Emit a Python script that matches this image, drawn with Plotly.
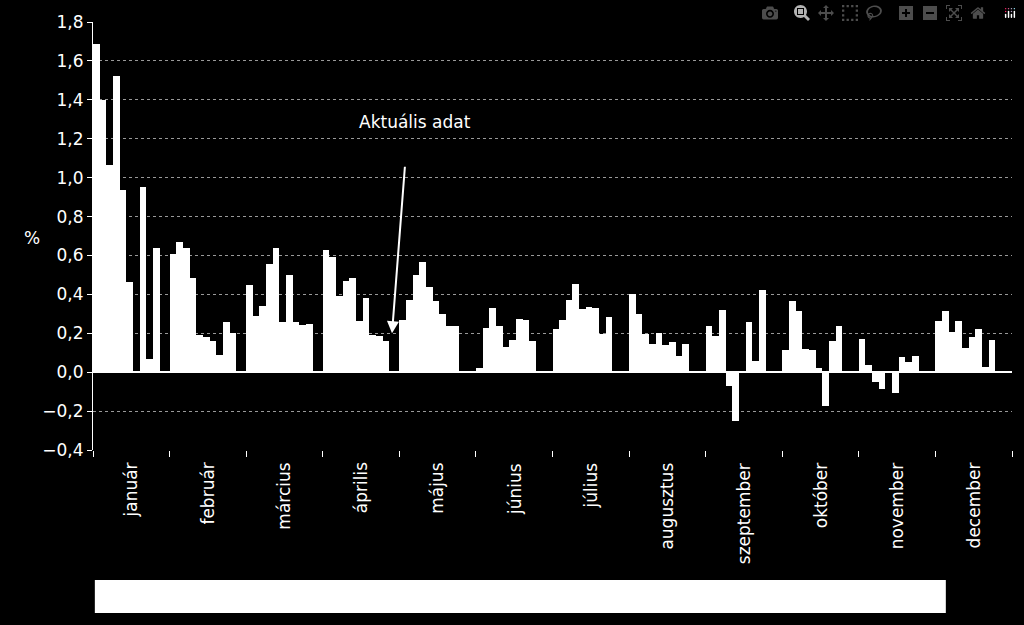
import plotly.graph_objects as go

months = ['január', 'február', 'március', 'április', 'május', 'június', 'július',
          'augusztus', 'szeptember', 'október', 'november', 'december']

jan = [1.685, 1.40, 1.067, 1.52, 0.935, 0.464, 0.005, 0.95, 0.07, 0.64]
feb = [0.61, 0.67, 0.64, 0.486, 0.19, 0.18, 0.16, 0.09, 0.26, 0.20]
mar = [0.45, 0.29, 0.34, 0.555, 0.64, 0.26, 0.50, 0.26, 0.24, 0.25]
apr = [0.63, 0.59, 0.39, 0.47, 0.485, 0.265, 0.38, 0.19, 0.185, 0.16]
may = [0.267, 0.37, 0.50, 0.564, 0.438, 0.365, 0.30, 0.235, 0.235]
jun = [0.02, 0.225, 0.33, 0.235, 0.13, 0.165, 0.275, 0.27, 0.162]
jul = [0.22, 0.267, 0.37, 0.453, 0.324, 0.334, 0.328, 0.197, 0.284]
aug = [0.40, 0.297, 0.197, 0.145, 0.20, 0.14, 0.155, 0.084, 0.143]
sep = [0.236, 0.184, 0.322, -0.07, -0.25, 0.003, 0.26, 0.055, 0.422]
okt = [0.112, 0.365, 0.315, 0.119, 0.112, 0.02, -0.175, 0.159, 0.236]
nov = [0.17, 0.036, -0.053, -0.088, 0.003, -0.108, 0.08, 0.05, 0.084]
dec = [0.262, 0.314, 0.207, 0.265, 0.124, 0.18, 0.222, 0.026, 0.167]

series = [jan, feb, mar, apr, may, jun, jul, aug, sep, okt, nov, dec]
SPAN = 11.5

xs, ys = [], []
for i, vals in enumerate(series):
    for j, v in enumerate(vals):
        xs.append(i * SPAN + j + 0.5)
        ys.append(v)

fig = go.Figure()
fig.add_trace(go.Bar(x=xs, y=ys, width=1.0, marker_color='white',
                     marker_line_width=0))

font = 'DejaVu Sans'
bounds = [i * SPAN for i in range(13)]

for i, m in enumerate(months):
    fig.add_annotation(x=i * SPAN + SPAN / 2, y=-0.025, xref='x', yref='paper',
                       text=m, textangle=-90, showarrow=False,
                       xanchor='center', yanchor='top',
                       font=dict(family=font, size=17, color='white'))

fig.add_annotation(x=44.9, y=0.2, ax=13, ay=-168, showarrow=True,
                   arrowhead=2, arrowsize=1.2, arrowwidth=2, arrowcolor='white',
                   text='')
fig.add_annotation(x=48.4, y=1.285, text='Aktuális adat', showarrow=False,
                   font=dict(family=font, size=17, color='white'))

fig.add_annotation(xref='paper', yref='paper', x=(22 - 93) / 919,
                   y=(450 - 238) / 428, text='%', showarrow=False,
                   font=dict(family=font, size=17, color='white'))

fig.add_shape(type='rect', xref='paper', yref='paper',
              x0=0.002, x1=0.928, y0=-0.381, y1=-0.304,
              fillcolor='white', line_width=0)

fig.update_layout(
    width=1024, height=625,
    paper_bgcolor='black', plot_bgcolor='black',
    margin=dict(l=93, r=12, t=22, b=175),
    bargap=0, showlegend=False,
    font=dict(family=font, color='white', size=17),
    xaxis=dict(range=[0, 138], tickvals=bounds, ticktext=[''] * 13,
               ticks='outside', ticklen=6, tickcolor='white',
               showgrid=False, zeroline=False, showline=False),
    yaxis=dict(range=[-0.4, 1.8], dtick=0.2, tickformat='.1f',
               showline=True, linecolor='white',
               linewidth=1, ticks='outside', ticklen=5, tickcolor='white',
               gridcolor='#999', griddash='dot', gridwidth=1,
               zeroline=True, zerolinecolor='white', zerolinewidth=1.5,
               tickfont=dict(size=17, color='white')),
    separators=', ',
)

fig.write_html('out.html')

# drop the default page margin so the chart fills the window
with open('out.html', encoding='utf-8') as f:
    html = f.read()
html = html.replace('<body>', '<body style="margin:0;background:black">', 1)
with open('out.html', 'w', encoding='utf-8') as f:
    f.write(html)
